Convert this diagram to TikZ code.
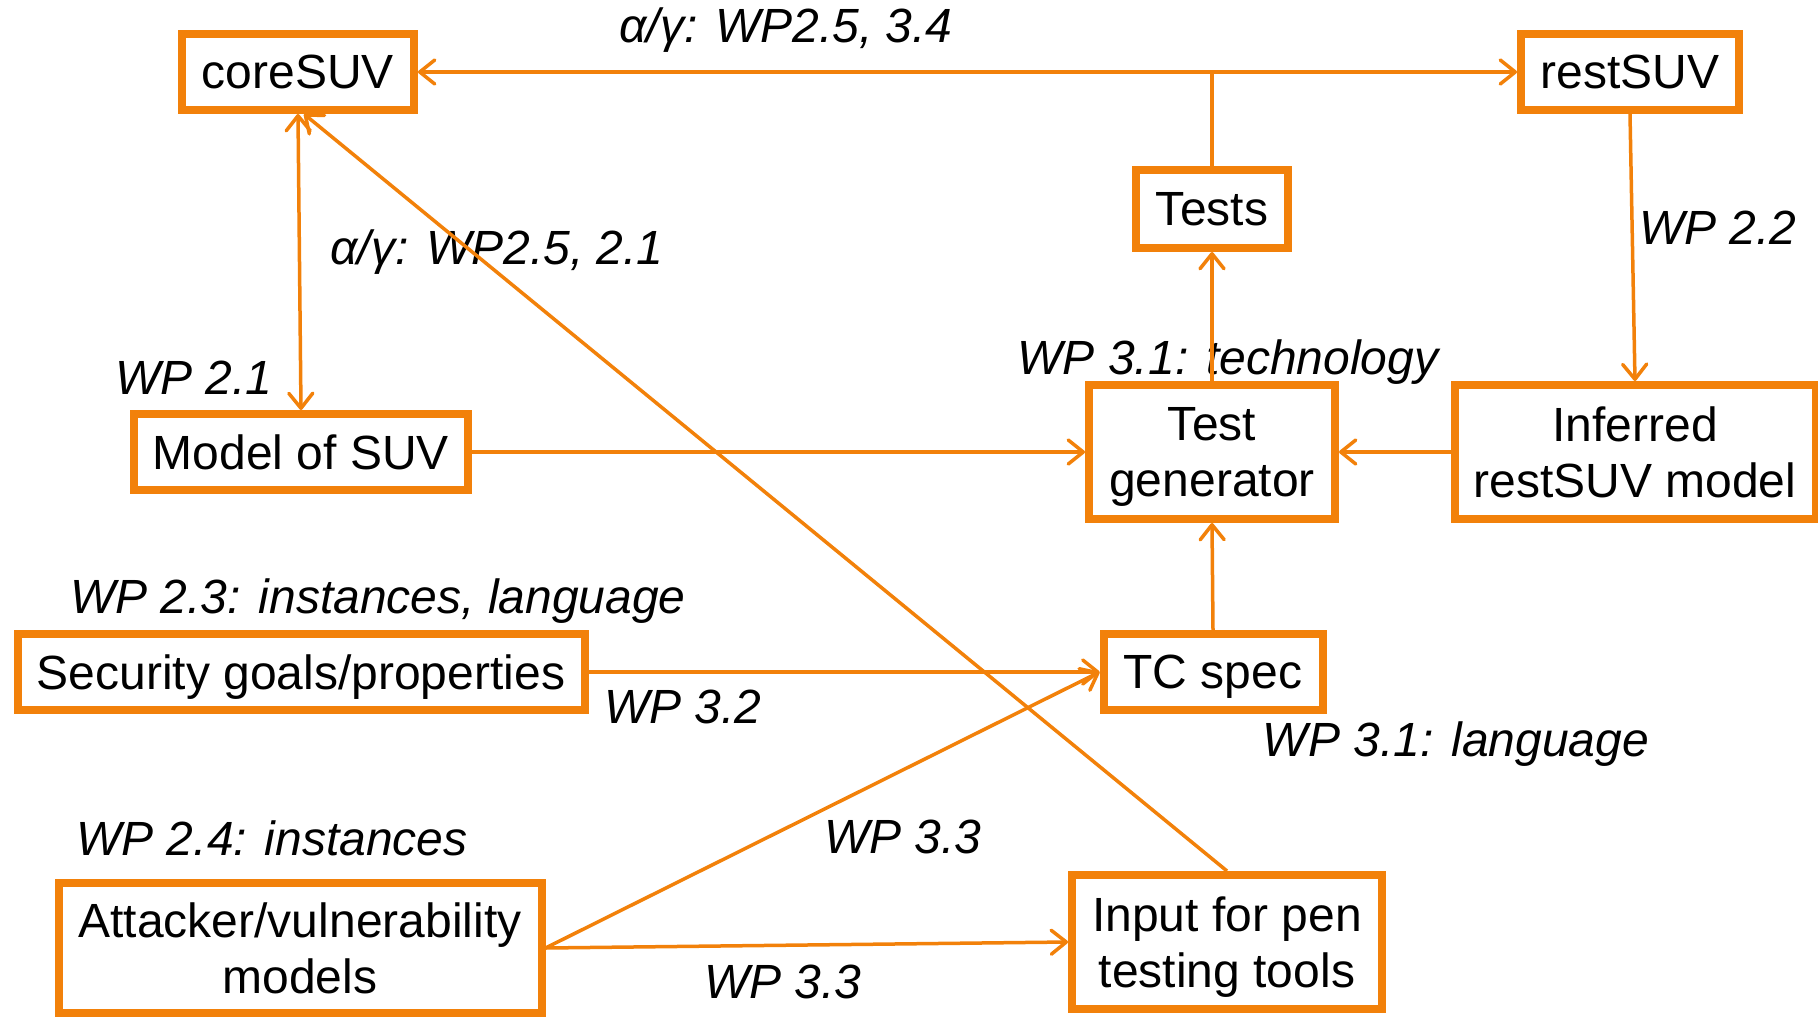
\documentclass[tikz,border=0pt]{standalone}
\usepackage{fontspec}
\setmainfont{Liberation Sans}
\usetikzlibrary{arrows.meta}
\definecolor{wporange}{RGB}{242,129,10}
\tikzset{
  blk/.style={draw=wporange, line width=8pt, fill=white, inner sep=0pt,
    align=center, text depth=0pt, font=\fontsize{48}{56}\selectfont},
  lbl/.style={anchor=base, inner sep=0pt, font=\fontsize{48}{56}\selectfont\itshape},
  conn/.style={draw=wporange, line width=3.5pt},
}
\begin{document}
\begin{tikzpicture}[x=1pt, y=-1pt,
  >={Straight Barb[length=15pt,width=24pt,round]}]
\useasboundingbox (0,0) rectangle (1818,1017);

% boxes (outer size minus border width)
\node[blk, minimum width=232pt, minimum height=76pt] (core) at (298,72) {coreSUV};
\node[blk, minimum width=218pt, minimum height=76pt] (rest) at (1630,72) {restSUV};
\node[blk, minimum width=152pt, minimum height=78pt] (tests) at (1212,209) {Tests};
\node[blk, minimum width=334pt, minimum height=76pt] (model) at (301,452) {Model of SUV};
\node[blk, minimum width=246pt, minimum height=134pt] (gen) at (1212,452) {Test\\generator};
\node[blk, minimum width=361pt, minimum height=134pt] (infer) at (1635,452) {Inferred\\restSUV model};
\node[blk, minimum width=567pt, minimum height=76pt] (sec) at (301,672) {Security goals/properties};
\node[blk, minimum width=219pt, minimum height=76pt] (tc) at (1213,672) {TC spec};
\node[blk, minimum width=483pt, minimum height=130pt] (att) at (300,948) {Attacker/vulnerability\\models};
\node[blk, minimum width=310pt, minimum height=134pt] (pen) at (1227,942) {Input for pen\\testing tools};

% work package labels
\node[lbl] (l1) at (786,42) {α/γ: WP2.5, 3.4};
\node[lbl] (l2) at (497,264) {α/γ: WP2.5, 2.1};
\node[lbl] (l3) at (194,394) {WP 2.1};
\node[lbl] (l4) at (1228,374) {WP 3.1: technology};
\node[lbl] (l5) at (1718,244) {WP 2.2};
\node[lbl] (l6) at (378,613) {WP 2.3: instances, language};
\node[lbl] (l7) at (683,723) {WP 3.2};
\node[lbl] (l8) at (1456,756) {WP 3.1: language};
\node[lbl] (l9) at (272,855) {WP 2.4: instances};
\node[lbl] (l10) at (903,853) {WP 3.3};
\node[lbl] (l11) at (783,998) {WP 3.3};

% connectors
\coordinate (junc) at (tests.north |- core.east);
\draw[conn, <->] (core.east) -- (rest.west);
\draw[conn] (tests.north) -- (junc);
\draw[conn, <->] (core.south) -- (model.north);
\draw[conn, ->] (model.east) -- (gen.west);
\draw[conn, ->] (gen.north) -- (tests.south);
\draw[conn, ->] (rest.south) -- (infer.north);
\draw[conn, ->] (infer.west) -- (gen.east);
\draw[conn, ->] (sec.east) -- (tc.west);
\draw[conn, ->] (tc.north) -- (gen.south);
\draw[conn, ->] (att.east) -- (tc.west);
\draw[conn, ->] (att.east) -- (pen.west);
\draw[conn, ->] (pen.north) -- ([xshift=6pt]core.south);
\end{tikzpicture}
\end{document}
